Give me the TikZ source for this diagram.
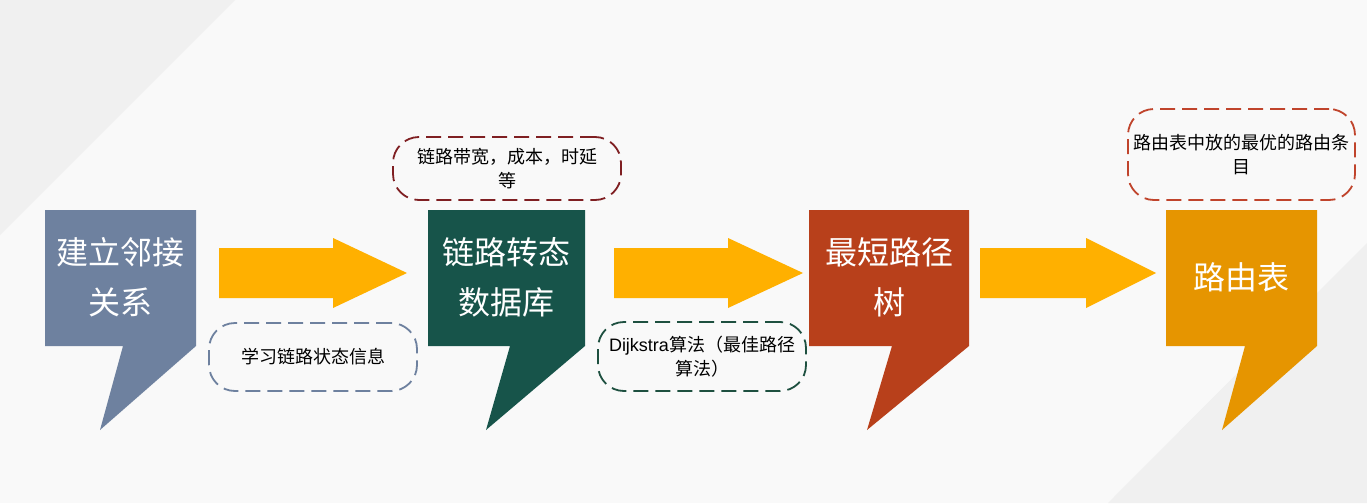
\documentclass[tikz,border=0pt]{standalone}
\usepackage{fontspec}
\setmainfont{Noto Sans CJK SC}
\newfontfamily\latin{Liberation Sans}
\usepackage{tikz}
\usetikzlibrary{
	backgrounds,
	arrows.meta
	}
\definecolor{bgpaper}{HTML}{F9F9F9}
\definecolor{bgshade}{HTML}{F0F0F0}
\definecolor{slate}{HTML}{6E819F}
\definecolor{teal}{HTML}{17544A}
\definecolor{rust}{HTML}{B8401B}
\definecolor{amber}{HTML}{E69500}
\definecolor{flow}{HTML}{FFB000}
\definecolor{wine}{HTML}{7F1F22}
\definecolor{pine}{HTML}{1E5040}
\definecolor{brick}{HTML}{C0442C}

\begin{document}
\begin{tikzpicture}[
                x=1pt,y=-1pt,
                bubble/.style={fill=#1},
                boxtext/.style={text=white,align=center,font=\fontsize{32}{50}\selectfont},
                flowarrow/.style={fill=flow},
                note/.style={draw=#1,line width=1.8pt,dash pattern=on 15pt off 7pt,
                        rounded corners=26pt,align=center,inner sep=0pt,
                        font=\fontsize{18}{24.5}\selectfont},
            ]

                \def\top{210}
                \def\bot{346}
                \def\tip{430}

                %% Background
                \useasboundingbox (0,0) rectangle (1367,503);
                \fill[bgpaper] (0,0) rectangle (1367,503);
                \fill[bgshade] (0,0) -- (235,0) -- (0,235) -- cycle;
                \fill[bgshade] (1367,243) -- (1367,503) -- (1108,503) -- cycle;

                %% Speech boxes
                % Box 1
                \fill[bubble=slate] (45,\top) -- (196,\top) -- (196,\bot) -- (100,\tip)
                    -- (123,\bot) -- (45,\bot) -- cycle;
                \node[boxtext] (adj) at (120.5,277) {建立邻接\\关系};

                % Box 2
                \fill[bubble=teal] (428,\top) -- (585,\top) -- (585,\bot) -- (486,\tip)
                    -- (510,\bot) -- (428,\bot) -- cycle;
                \node[boxtext] (lsdb) at (506.5,277) {链路转态\\数据库};

                % Box 3
                \fill[bubble=rust] (809,\top) -- (969,\top) -- (969,\bot) -- (867,\tip)
                    -- (892,\bot) -- (809,\bot) -- cycle;
                \node[boxtext] (spt) at (889,277) {最短路径\\树};

                % Box 4
                \fill[bubble=amber] (1166,\top) -- (1317,\top) -- (1317,\bot) -- (1222,\tip)
                    -- (1245,\bot) -- (1166,\bot) -- cycle;
                \node[boxtext] (rt) at (1241.5,277) {路由表};

                %% Block arrows between the boxes
                \foreach \s/\n/\t in {219/333/407,614/728/803,980/1086/1156}
                    \fill[flowarrow] (\s,248) -- (\n,248) -- (\n,238) -- (\t,273)
                        -- (\n,308) -- (\n,298) -- (\s,298) -- cycle;

                %% Dashed notes
                \node[note=slate,minimum width=208pt,minimum height=68pt] (learn)
                    at (313,357) {学习链路状态信息};
                \node[note=wine,minimum width=228pt,minimum height=63pt] (cost)
                    at (507,168.5) {链路带宽，成本，时延\\等};
                \node[note=pine,minimum width=208pt,minimum height=69pt] (dijk)
                    at (702,356.5) {{\latin Dijkstra}算法（最佳路径\\算法）};
                \node[note=brick,minimum width=227pt,minimum height=91pt] (best)
                    at (1241.5,154.5) {路由表中放的最优的路由条\\目};

            \end{tikzpicture}
\end{document}
